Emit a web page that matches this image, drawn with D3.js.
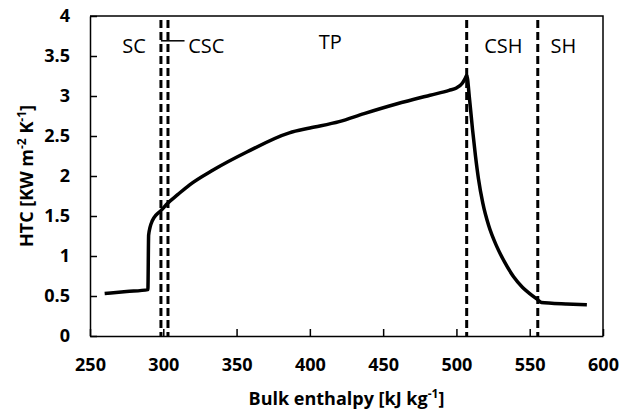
<!DOCTYPE html>
<html>
<head>
    <meta charset="utf-8" />
    <title>HTC vs bulk enthalpy</title>
    <style>
        body { margin: 0; background: #fff; }
        .line { fill: none; stroke: #000; stroke-width: 3.5px; stroke-linejoin: round; }
        .divider { stroke: #000; stroke-width: 3px; stroke-dasharray: 8, 4; }
        .axis text { font-family: 'Open Sans', sans-serif; font-weight: bold; font-size: 18px; fill: #000; }
        .axis path, .axis line { stroke: #000; stroke-width: 1.5px; }
        .title { font-family: 'Open Sans', sans-serif; font-weight: bold; font-size: 18px; fill: #000; }
        .region { font-family: 'Open Sans', sans-serif; font-size: 20px; fill: #000; }
    </style>
    <script src="https://cdn.jsdelivr.net/npm/d3@7"></script>
</head>
<body>
    <script>
        // values
        var enthalpy = [260, 275, 289.5, 290, 291, 292.5, 295, 298, 303, 310, 318, 334, 357, 386, 400, 420, 437,
            459, 482, 495, 500, 504, 506, 507, 509, 511, 513, 515, 518, 522, 527.5, 533, 539, 545, 550, 555, 558,
            565, 575, 589];
        var htc = [0.53, 0.555, 0.58, 1.26, 1.36, 1.44, 1.51, 1.56, 1.66, 1.77, 1.89, 2.075, 2.30, 2.54, 2.60, 2.68, 2.78,
            2.90, 3.01, 3.07, 3.10, 3.16, 3.22, 3.26, 2.95, 2.58, 2.25, 1.97, 1.66, 1.38, 1.12, 0.92, 0.74, 0.61, 0.53, 0.46, 0.42,
            0.41, 0.40, 0.39];

        var dividers = [298.4, 303.2, 507, 555.5];
        var regionNames = ['SC', 'CSC', 'TP', 'CSH', 'SH'];
        var regionX = [280, 317, 414, 532, 573];
        var regionY = [3.54, 3.54, 3.59, 3.54, 3.54];
        var regionAnchor = ['middle', 'start', 'middle', 'middle', 'middle'];

        var xTicks = [250, 300, 350, 400, 450, 500, 550, 600];
        var yTicks = [0, 0.5, 1, 1.5, 2, 2.5, 3, 3.5, 4];

        var margin = { top: 16, right: 18, bottom: 74, left: 90 };
        var width = 621 - margin.left - margin.right,
            height = 410 - margin.top - margin.bottom;

        var x = d3.scaleLinear().domain([250, 600]).range([0, width]);
        var y = d3.scaleLinear().domain([0, 4]).range([height, 0]);

        var svg = d3.select('body')
            .append('svg')
                .attr('width', 621)
                .attr('height', 410)
            .append('g')
                .attr('transform', 'translate(' + margin.left + ', ' + margin.top + ')');

        // frame (top and right)
        svg.append('path')
            .attr('d', 'M0,0H' + width + 'V' + height)
            .attr('fill', 'none')
            .attr('stroke', '#000')
            .attr('stroke-width', 1.5);

        // axes with inward ticks
        svg.append('g')
            .attr('class', 'axis')
            .attr('transform', 'translate(0, ' + height + ')')
            .call(d3.axisBottom(x).tickValues(xTicks).tickSizeInner(-7).tickSizeOuter(0).tickPadding(22));

        svg.append('g')
            .attr('class', 'axis')
            .call(d3.axisLeft(y).tickValues(yTicks).tickFormat(d3.format('')).tickSizeInner(-7).tickSizeOuter(0).tickPadding(20));

        // dashed region boundaries
        svg.selectAll('.divider')
            .data(dividers)
            .enter().append('line')
                .attr('class', 'divider')
                .attr('x1', function(d) { return x(d); })
                .attr('x2', function(d) { return x(d); })
                .attr('y1', y(3.95))
                .attr('y2', height);

        // HTC curve
        var points = enthalpy.map(function(e, i) { return [e, htc[i]]; });
        var line = d3.line()
            .curve(d3.curveMonotoneX)
            .x(function(d) { return x(d[0]); })
            .y(function(d) { return y(d[1]); });
        svg.append('path')
            .datum(points)
            .attr('class', 'line')
            .attr('d', line);

        // region labels
        svg.selectAll('.region')
            .data(regionNames)
            .enter().append('text')
                .attr('class', 'region')
                .attr('x', function(d, i) { return x(regionX[i]); })
                .attr('y', function(d, i) { return y(regionY[i]); })
                .style('text-anchor', function(d, i) { return regionAnchor[i]; })
                .text(function(d) { return d; });

        // leader from the CSC pair to its label
        svg.append('line')
            .attr('x1', x(298.4))
            .attr('x2', x(314.5))
            .attr('y1', y(3.69))
            .attr('y2', y(3.69))
            .attr('stroke', '#000')
            .attr('stroke-width', 1.5);

        // x-axis title
        var xt = svg.append('text')
            .attr('class', 'title')
            .attr('x', width / 2)
            .attr('y', height + 69)
            .style('text-anchor', 'middle');
        xt.append('tspan').text('Bulk enthalpy [kJ kg');
        xt.append('tspan').attr('dy', -7).style('font-size', '12px').text('-1');
        xt.append('tspan').attr('dy', 7).text(']');

        // y-axis title
        var yt = svg.append('text')
            .attr('class', 'title')
            .attr('transform', 'rotate(-90)')
            .attr('x', -height / 2)
            .attr('y', 33 - margin.left)
            .style('text-anchor', 'middle');
        yt.append('tspan').text('HTC [KW m');
        yt.append('tspan').attr('dy', -7).style('font-size', '12px').text('-2');
        yt.append('tspan').attr('dy', 7).text(' K');
        yt.append('tspan').attr('dy', -7).style('font-size', '12px').text('-1');
        yt.append('tspan').attr('dy', 7).text(']');
    </script>
</body>
</html>
